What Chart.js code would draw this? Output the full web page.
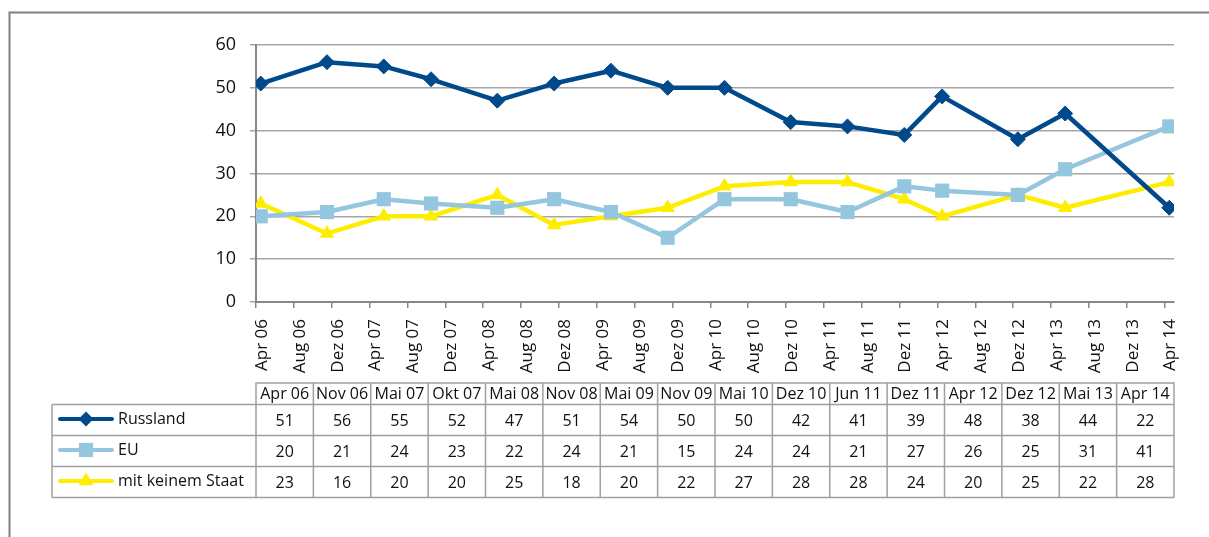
<!DOCTYPE html>
<html>
<head>
<meta charset="utf-8">
<script src="https://cdn.jsdelivr.net/npm/chart.js@4/dist/chart.umd.min.js"></script>
<style>
  html, body { margin: 0; padding: 0; background: #ffffff; }
  #wrap { position: relative; width: 1209px; height: 537px; }
</style>
</head>
<body>
<div id="wrap"><canvas id="c" width="1209" height="537"></canvas></div>
<script>
// ---- data ----
const surveyDates = ["Apr 06","Nov 06","Mai 07","Okt 07","Mai 08","Nov 08","Mai 09","Nov 09","Mai 10","Dez 10","Jun 11","Dez 11","Apr 12","Dez 12","Mai 13","Apr 14"];
const russland = [51,56,55,52,47,51,54,50,50,42,41,39,48,38,44,22];
const eu       = [20,21,24,23,22,24,21,15,24,24,21,27,26,25,31,41];
const keinem   = [23,16,20,20,25,18,20,22,27,28,28,24,20,25,22,28];
const seriesNames = ["Russland","EU","mit keinem Staat"];
const axisTickLabels = ["Apr 06","Aug 06","Dez 06","Apr 07","Aug 07","Dez 07","Apr 08","Aug 08","Dez 08","Apr 09","Aug 09","Dez 09","Apr 10","Aug 10","Dez 10","Apr 11","Aug 11","Dez 11","Apr 12","Aug 12","Dez 12","Apr 13","Aug 13","Dez 13","Apr 14"];
const monthNames = ["Jan","Feb","Mär","Apr","Mai","Jun","Jul","Aug","Sep","Okt","Nov","Dez"];
const yTicks = [0,10,20,30,40,50,60];

// month offset from Apr 06 (points sit in the middle of their month)
function monthIndex(lbl) {
  const [m, y] = lbl.split(" ");
  return (parseInt(y, 10) - 6) * 12 + monthNames.indexOf(m) - 3;
}
const xs = surveyDates.map(d => monthIndex(d) + 0.5);
const xMax = monthIndex(axisTickLabels[axisTickLabels.length - 1]) + 1;
const toPts = arr => arr.map((v, i) => ({ x: xs[i], y: v }));

const COL_RU = "#004a8c";
const COL_EU = "#94c6df";
const COL_KS = "#ffed00";
const GRID = "#a6a6a6";
const AXIS = "#878787";
const FONT = "'Open Sans', sans-serif";

const tablePlugin = {
  id: "tablePlugin",
  beforeDraw(chart) {
    const ctx = chart.ctx;
    ctx.save();
    ctx.strokeStyle = "#808080";
    ctx.lineWidth = 2;
    ctx.beginPath();
    ctx.moveTo(9.5, 537);
    ctx.lineTo(9.5, 12.5);
    ctx.lineTo(1209, 12.5);
    ctx.stroke();
    ctx.restore();
  },
  afterDraw(chart) {
    const ctx = chart.ctx;
    const a = chart.chartArea;
    const left = a.left, right = a.right;
    const n = surveyDates.length;
    const cw = (right - left) / n;
    const legLeft = 52;
    const hTop = a.bottom + 81, hBot = a.bottom + 102.5;
    const rowH = 31;
    const rows = [russland, eu, keinem];
    const ds = chart.data.datasets;
    ctx.save();
    ctx.strokeStyle = "#a0a0a0";
    ctx.lineWidth = 1.5;
    ctx.beginPath();
    ctx.moveTo(left, hBot); ctx.lineTo(left, hTop); ctx.lineTo(right, hTop); ctx.lineTo(right, hBot);
    for (let i = 1; i < n; i++) { ctx.moveTo(left + i * cw, hTop); ctx.lineTo(left + i * cw, hBot + 3 * rowH); }
    for (let r = 0; r <= 3; r++) { ctx.moveTo(legLeft, hBot + r * rowH); ctx.lineTo(right, hBot + r * rowH); }
    ctx.moveTo(legLeft, hBot); ctx.lineTo(legLeft, hBot + 3 * rowH);
    ctx.moveTo(left, hBot); ctx.lineTo(left, hBot + 3 * rowH);
    ctx.moveTo(right, hBot); ctx.lineTo(right, hBot + 3 * rowH);
    ctx.stroke();

    ctx.fillStyle = "#111111";
    ctx.font = "16px " + FONT;
    ctx.textAlign = "center";
    ctx.textBaseline = "middle";
    surveyDates.forEach((d, i) => ctx.fillText(d, left + (i + 0.5) * cw, (hTop + hBot) / 2 + 1));
    rows.forEach((arr, r) => {
      const cy = hBot + (r + 0.5) * rowH + 1;
      arr.forEach((v, i) => ctx.fillText(String(v), left + (i + 0.5) * cw, cy));
    });
    rows.forEach((arr, r) => {
      const cy = hBot + (r + 0.5) * rowH - 1;
      const d = ds[r];
      ctx.strokeStyle = d.borderColor;
      ctx.lineWidth = 4;
      ctx.lineCap = "round";
      ctx.beginPath(); ctx.moveTo(60, cy); ctx.lineTo(112, cy); ctx.stroke();
      ctx.fillStyle = d.pointBackgroundColor;
      Chart.helpers.drawPoint(ctx, { pointStyle: d.pointStyle, rotation: 0, radius: d.pointRadius, borderWidth: 0 }, 86, cy);
      ctx.fillStyle = "#111111";
      ctx.textAlign = "left";
      ctx.fillText(seriesNames[r], 118, cy);
    });
    ctx.restore();
  }
};

new Chart(document.getElementById("c"), {
  type: "line",
  data: {
    datasets: [
      { label: seriesNames[0], data: toPts(russland), borderColor: COL_RU, backgroundColor: COL_RU,
        pointBackgroundColor: COL_RU, pointBorderColor: COL_RU, pointStyle: "rectRot", pointRadius: 7.5, pointBorderWidth: 1, borderWidth: 4.5 },
      { label: seriesNames[1], data: toPts(eu), borderColor: COL_EU, backgroundColor: COL_EU,
        pointBackgroundColor: COL_EU, pointBorderColor: COL_EU, pointStyle: "rect", pointRadius: 10, pointBorderWidth: 0, borderWidth: 4.5 },
      { label: seriesNames[2], data: toPts(keinem), borderColor: COL_KS, backgroundColor: COL_KS,
        pointBackgroundColor: COL_KS, pointBorderColor: COL_KS, pointStyle: "triangle", pointRadius: 8.5, pointBorderWidth: 0, borderWidth: 4.5 }
    ]
  },
  options: {
    responsive: false,
    animation: false,
    layout: { padding: { left: 0, top: 45, right: 35, bottom: 0 } },
    plugins: { legend: { display: false }, tooltip: { enabled: false } },
    elements: { line: { tension: 0, borderJoinStyle: "round" } },
    scales: {
      x: {
        type: "linear", min: 0, max: xMax,
        afterFit(s) { s.height = 235; },
        afterBuildTicks(s) { s.ticks = axisTickLabels.map((_, i) => ({ value: i * 4 })); },
        grid: { drawOnChartArea: false, drawTicks: true, tickLength: 6, color: AXIS, lineWidth: 1.5 },
        border: { display: true, color: AXIS, width: 2 },
        ticks: {
          autoSkip: false, minRotation: 90, maxRotation: 90, padding: 11, labelOffset: 6,
          color: "#111111", font: { family: FONT, size: 17 },
          callback: v => axisTickLabels[Math.round(v / 4)]
        }
      },
      y: {
        min: 0, max: 60,
        afterFit(s) { s.width = 256; },
        afterBuildTicks(s) { s.ticks = yTicks.map(v => ({ value: v })); },
        grid: { color: GRID, lineWidth: 1.5, tickLength: 6, tickColor: GRID },
        border: { display: true, color: AXIS, width: 2 },
        ticks: { padding: 14, color: "#111111", font: { family: FONT, size: 18 } }
      }
    }
  },
  plugins: [tablePlugin]
});
</script>
</body>
</html>
